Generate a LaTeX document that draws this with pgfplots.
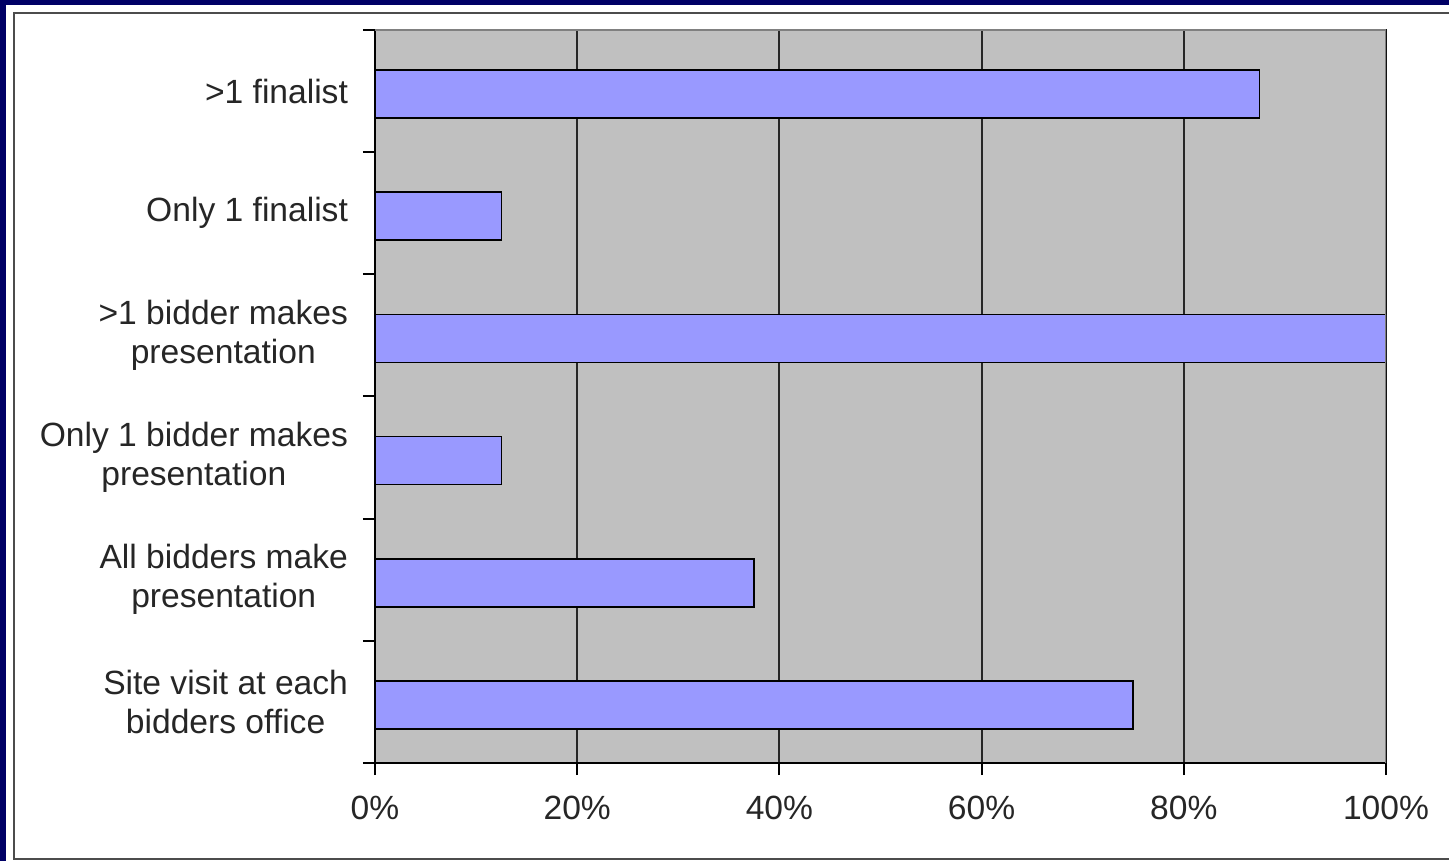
\documentclass[border=0pt]{standalone}
\usepackage{pgfplots}
\pgfplotsset{compat=1.18}
\usepackage{fontspec}
\setmainfont{Liberation Sans}
\definecolor{navy}{HTML}{000066}
\definecolor{plotgray}{HTML}{C0C0C0}
\definecolor{barblue}{HTML}{9999FF}
\definecolor{framegray}{HTML}{808080}
\begin{document}
\begin{tikzpicture}[x=1pt,y=1pt]
\useasboundingbox (0,0) rectangle (724.5,430.5);
\fill[white] (0,0) rectangle (724.5,430.5);
\fill[navy] (0,428) rectangle (724.5,430.5);
\fill[navy] (0,0) rectangle (3,430.5);
\draw[black!70, line width=1pt] (724.5,424) -- (7,424) -- (7,1) -- (724.5,1);
\begin{axis}[
  at={(187.5pt,49pt)}, anchor=south west,
  scale only axis, width=505.5pt, height=366.5pt,
  xbar, bar width=24pt, bar shift=-1.5pt,
  xmin=0, xmax=100, ymin=-0.5, ymax=5.5,
  axis background/.style={fill=plotgray},
  xtick={0,20,...,100},
  xticklabels={0\%,20\%,40\%,60\%,80\%,100\%},
  minor xtick={0,20,...,100},
  ytick={0,...,5},
  yticklabels={{Site visit at each\\bidders office},{All bidders make\\presentation},{Only 1 bidder makes\\presentation},{>1 bidder makes\\presentation},{Only 1 finalist},{>1 finalist}},
  minor ytick={-0.5,0.5,...,5.5},
  major tick length=0pt, minor tick length=6pt,
  tick align=outside, tick pos=left,
  every tick/.style={black, line width=1pt},
  xmajorgrids, major grid style={black!85, line width=1pt},
  axis line style={black, line width=1pt},
  tick label style={font=\fontsize{16.8}{19.5}\selectfont, text=black!85},
  yticklabel style={align=center, xshift=-10pt},
  xticklabel style={yshift=-13pt},
]
\addplot[fill=barblue, draw=black, line width=0.8pt] coordinates {
  (75,0) (37.5,1) (12.5,2) (100,3) (12.5,4) (87.5,5)
};
\draw[framegray, line width=1pt] (rel axis cs:0,1) -- (rel axis cs:1,1) -- (rel axis cs:1,0);
\end{axis}
\end{tikzpicture}
\end{document}
